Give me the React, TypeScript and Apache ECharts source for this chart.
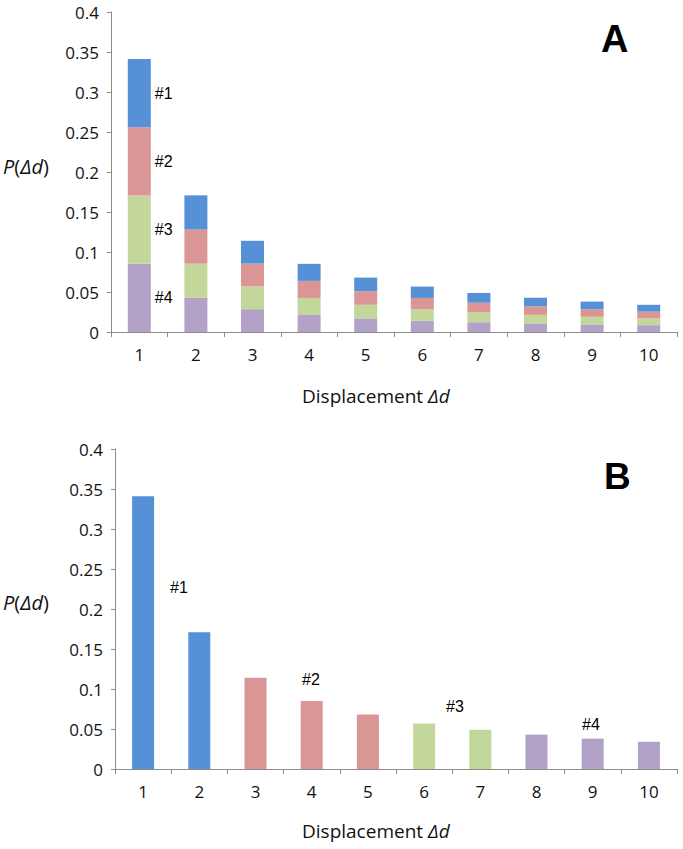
import React, { useEffect, useRef } from "react";
import * as echarts from "echarts";

const categories = ["1", "2", "3", "4", "5", "6", "7", "8", "9", "10"];
// Panel A: each bar split into four equal shares (#4 bottom ... #1 top)
const shareA = [0.0853, 0.0427, 0.0285, 0.0213, 0.017, 0.0142, 0.0122, 0.0107, 0.0095, 0.0085];
// Panel B: total probability per displacement
const totalsB = [0.341, 0.171, 0.114, 0.085, 0.068, 0.057, 0.049, 0.043, 0.038, 0.034];
const groupB = [1, 1, 2, 2, 2, 3, 3, 4, 4, 4];
const yTicks = { min: 0, max: 0.4, interval: 0.05 };

const COLORS: Record<number, string> = {
  1: "#5690D6",
  2: "#DA9694",
  3: "#C4D79B",
  4: "#B3A2C7",
};

const AX = "#8c8c8c";
const LABEL_FONT = "'Open Sans', sans-serif";
const NOTE_FONT = "'Liberation Sans', Arial, sans-serif";

function yAxis(gridIndex: number) {
  return {
    type: "value",
    gridIndex,
    min: yTicks.min,
    max: yTicks.max,
    interval: yTicks.interval,
    axisLine: { show: true, lineStyle: { color: AX, width: 1 } },
    axisTick: { show: true, length: 4, lineStyle: { color: AX } },
    splitLine: { show: false },
    axisLabel: {
      margin: 12,
      fontSize: 17,
      color: "#111",
      fontFamily: LABEL_FONT,
      formatter: (v: number) => (v === 0 ? "0" : String(Math.round(v * 100) / 100)),
    },
  };
}

function xAxis(gridIndex: number) {
  return {
    type: "category",
    gridIndex,
    data: categories,
    axisLine: { show: true, lineStyle: { color: AX, width: 1 } },
    axisTick: { show: true, length: 5, lineStyle: { color: AX } },
    axisLabel: { margin: 14, fontSize: 17, color: "#111", fontFamily: LABEL_FONT },
  };
}

export default function App() {
  const ref = useRef<HTMLDivElement>(null);
  useEffect(() => {
    if (!ref.current) return;
    const chart = echarts.init(ref.current, null, { renderer: "svg" });
    const stackOrder = [4, 3, 2, 1];
    const seriesA = stackOrder.map((g) => ({
      type: "bar",
      name: "#" + g,
      stack: "A",
      xAxisIndex: 0,
      yAxisIndex: 0,
      barWidth: 23,
      itemStyle: { color: COLORS[g] },
      data: shareA.map((v, i) =>
        i === 0
          ? {
              value: v,
              label: {
                show: true,
                position: "right",
                distance: 4,
                formatter: "#" + g,
                fontSize: 16,
                color: "#000",
                fontFamily: NOTE_FONT,
              },
            }
          : v
      ),
    }));
    const seriesB = {
      type: "bar",
      xAxisIndex: 1,
      yAxisIndex: 1,
      barWidth: 22,
      data: totalsB.map((v, i) => ({ value: v, itemStyle: { color: COLORS[groupB[i]] } })),
    };
    const rich = (size: number) => ({
      i: { fontStyle: "italic", fontSize: size, fontFamily: LABEL_FONT, fill: "#111" },
      n: { fontSize: size, fontFamily: LABEL_FONT, fill: "#111" },
    });
    const yTitle = (y: number) => ({
      type: "text",
      x: 3,
      y,
      style: {
        text: "{i|P}{n|(}{i|Δd}{n|)}",
        verticalAlign: "middle",
        rich: rich(20),
      },
    });
    const xTitle = (y: number) => ({
      type: "text",
      x: 302,
      y,
      style: {
        text: "{n|Displacement }{i|Δd}",
        verticalAlign: "middle",
        rich: rich(19),
      },
    });
    const note = (text: string, x: number, y: number) => ({
      type: "text",
      x,
      y,
      style: {
        text,
        fontSize: 16,
        fontFamily: NOTE_FONT,
        fill: "#000",
        align: "center",
        verticalAlign: "middle",
      },
    });
    chart.setOption({
      animation: false,
      backgroundColor: "#fff",
      grid: [
        { left: 111, right: 6, top: 12, height: 320 },
        { left: 115, right: 6, top: 449, height: 320 },
      ],
      xAxis: [xAxis(0), xAxis(1)],
      yAxis: [yAxis(0), yAxis(1)],
      series: [...seriesA, seriesB],
      graphic: [
        yTitle(166),
        yTitle(602),
        xTitle(396),
        xTitle(831),
        {
          type: "text",
          x: 601,
          y: 20,
          style: { text: "A", fontSize: 38, fontWeight: "bold", fontFamily: NOTE_FONT, fill: "#000" },
        },
        {
          type: "text",
          x: 604,
          y: 458,
          style: { text: "B", fontSize: 37, fontWeight: "bold", fontFamily: NOTE_FONT, fill: "#000" },
        },
        note("#1", 179, 587),
        note("#2", 311, 679),
        note("#3", 455, 706),
        note("#4", 591, 724),
      ],
    });
    return () => chart.dispose();
  }, []);
  return (
    <div
      ref={ref}
      style={{ position: "fixed", left: 0, top: 0, width: 683, height: 849, background: "#fff" }}
    />
  );
}
